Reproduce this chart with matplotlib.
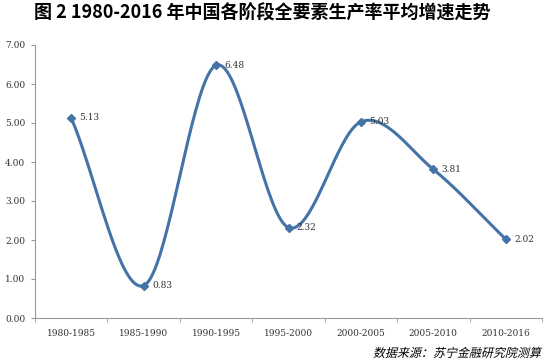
import numpy as np
import matplotlib.pyplot as plt
from matplotlib.textpath import TextPath
from matplotlib.patches import PathPatch
from matplotlib.font_manager import FontProperties
from matplotlib.transforms import Affine2D

plt.rcParams['font.family'] = ['Noto Sans CJK SC', 'DejaVu Sans']

periods = ["1980-1985", "1985-1990", "1990-1995", "1995-2000",
           "2000-2005", "2005-2010", "2010-2016"]
tfp_growth = [5.13, 0.83, 6.48, 2.32, 5.03, 3.81, 2.02]
yticks = [0, 1, 2, 3, 4, 5, 6, 7]

line_color = "#4573a7"


def catmull_rom(x, y, n=40):
    # smooth curve through the points, like Excel's smoothed line
    px = np.concatenate([[2 * x[0] - x[1]], x, [2 * x[-1] - x[-2]]])
    py = np.concatenate([[2 * y[0] - y[1]], y, [2 * y[-1] - y[-2]]])
    xs, ys = [], []
    t = np.linspace(0, 1, n)
    for i in range(1, len(px) - 2):
        for pts, out in ((px, xs), (py, ys)):
            a, b, c, d = pts[i-1], pts[i], pts[i+1], pts[i+2]
            out.extend(0.5 * ((2 * b) + (-a + c) * t +
                              (2 * a - 5 * b + 4 * c - d) * t ** 2 +
                              (-a + 3 * b - 3 * c + d) * t ** 3))
    return np.array(xs), np.array(ys)


x = np.arange(len(periods), dtype=float)
y = np.array(tfp_growth)
sx, sy = catmull_rom(x, y)

fig = plt.figure(figsize=(5.49, 3.62), dpi=100)
ax = fig.add_axes([35 / 549, 44 / 362, 507 / 549, 273 / 362])

ax.plot(sx, sy, color=line_color, lw=2.2, solid_capstyle="round")
ax.plot(x, y, linestyle="none", marker="D", ms=4.5, color=line_color)
for xi, yi in zip(x, y):
    ax.annotate(f"{yi:.2f}", (xi, yi), xytext=(6, 0), textcoords="offset points",
                fontsize=6.5, va="center", ha="left", color="#333333",
                family="DejaVu Serif")

ax.set_xlim(-0.5, len(periods) - 0.5)
ax.set_ylim(0, 7)
ax.set_yticks(yticks)
ax.set_yticklabels([f"{v:.2f}" for v in yticks], fontsize=6.5,
                   family="DejaVu Serif", color="#333333")
ax.set_xticks(x)
ax.set_xticklabels(periods, fontsize=6.5, family="DejaVu Serif", color="#333333")
ax.set_xticks(np.arange(-0.5, len(periods), 1), minor=True)
ax.tick_params(axis="x", which="major", length=0, pad=8)
ax.tick_params(axis="x", which="minor", length=3, color="#999999")
ax.tick_params(axis="y", length=3, color="#999999", pad=4)

for s in ("top", "right"):
    ax.spines[s].set_visible(False)
for s in ("left", "bottom"):
    ax.spines[s].set_color("#999999")
    ax.spines[s].set_linewidth(0.8)

fig.text(0.478, 0.965, "图 2 1980-2016 年中国各阶段全要素生产率平均增速走势",
         ha="center", va="center", fontsize=13, fontweight="heavy")

# slanted source note (the CJK font has no italic face, so shear the glyphs)
src = "数据来源：苏宁金融研究院测算"
tp = TextPath((0, 0), src, size=12, prop=FontProperties(family="Noto Sans CJK SC"))
bb = tp.get_extents()
shear = Affine2D().translate(-bb.x1, -bb.y0).skew_deg(14, 0).translate(540, 4)
fig.patches.append(PathPatch(tp, transform=shear + fig.transFigure.inverted().frozen()
                             + fig.transFigure, color="black", lw=0))

fig.savefig("out.png", dpi=100)
